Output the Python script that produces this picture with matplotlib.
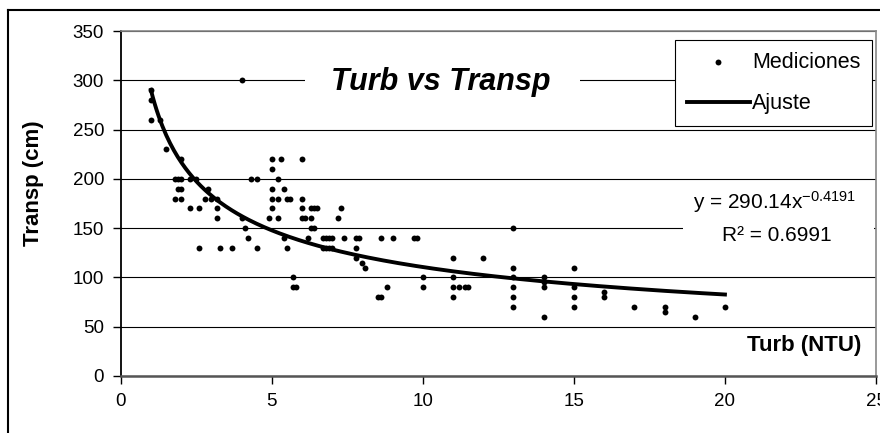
import matplotlib
matplotlib.use("Agg")
import matplotlib.pyplot as plt
import numpy as np
from matplotlib.lines import Line2D
from matplotlib.patches import Rectangle

plt.rcParams["font.family"] = ["Liberation Sans", "DejaVu Sans"]
plt.rcParams["mathtext.fontset"] = "custom"
plt.rcParams["mathtext.rm"] = "Liberation Sans"
plt.rcParams["mathtext.default"] = "regular"

turb = [1, 1, 1, 1.3, 1.5, 2,
        1.8, 1.9, 2, 2.3, 2.5, 1.9, 2, 1.8, 2,
        2.9, 2.8, 3, 3.2, 2.3, 2.6, 3.2, 3.2,
        2.6, 3.3, 3.7, 4.5, 5.5,
        4, 4.3, 4.5, 4, 4.1, 4.2,
        4.9, 5.2, 5, 5, 5.2, 5.5, 5.6,
        5, 5.4, 5.2, 5, 5, 5.3, 5.4,
        5.7, 5.7, 5.8,
        6, 6, 6, 6, 6.1, 6.2, 6.3, 6.4, 6.5, 6.3, 6.3, 6.4,
        6.7, 6.8, 6.9, 7, 6.7, 6.8, 6.9, 7,
        7.3, 7.2, 7.4,
        7.8, 7.9, 7.8, 7.8, 8, 8.1,
        8.6, 9, 9.7, 9.8,
        8.8, 8.5, 8.6,
        10, 10,
        11, 12, 11, 11, 11.2, 11.4, 11.5, 11,
        13, 13, 13, 13, 13, 13,
        14, 14, 14, 14,
        15, 15, 15, 15,
        16, 16, 17, 18, 18, 19, 20]
transp = [290, 280, 260, 260, 230, 220,
          200, 200, 200, 200, 200, 190, 190, 180, 180,
          190, 180, 180, 180, 170, 170, 170, 160,
          130, 130, 130, 130, 130,
          300, 200, 200, 160, 150, 140,
          160, 160, 170, 180, 180, 180, 180,
          190, 190, 200, 210, 220, 220, 140,
          100, 90, 90,
          220, 180, 170, 160, 160, 140, 170, 170, 170, 160, 150, 150,
          140, 140, 140, 140, 130, 130, 130, 130,
          170, 160, 140,
          140, 140, 130, 120, 115, 110,
          140, 140, 140, 140,
          90, 80, 80,
          100, 90,
          120, 120, 100, 90, 90, 90, 90, 80,
          150, 110, 100, 90, 80, 70,
          100, 95, 90, 60,
          110, 90, 80, 70,
          85, 80, 70, 70, 65, 60, 70]

# power fit y = a * x^b
FIT_A, FIT_B = 290.14, -0.4191
R2 = 0.6991
FIT_X0, FIT_X1 = 1, 20

W, H = 880, 433
fig = plt.figure(figsize=(W / 100, H / 100), dpi=100)


def fx(px):
    return px / W


def fy(py):
    return 1 - py / H


ax = fig.add_axes([fx(120.7), fy(376), fx(876) - fx(120.7), fy(31) - fy(376)])

ax.set_xlim(0, 25)
ax.set_ylim(0, 350)
ax.set_xticks(range(0, 26, 5))
ax.set_yticks(range(0, 351, 50))
ax.tick_params(direction="out", length=6, width=1, labelsize=13.5, pad=6, color="black")
ax.yaxis.grid(True, color="black", lw=0.8)
ax.set_axisbelow(True)

ax.spines["left"].set_color("black")
ax.spines["left"].set_linewidth(1.3)
ax.spines["bottom"].set_color("#555555")
ax.spines["bottom"].set_linewidth(1.8)
for s in ("top", "right"):
    ax.spines[s].set_color("#888888")
    ax.spines[s].set_linewidth(1.2)

ax.scatter(turb, transp, s=18, color="black", zorder=3, label="Mediciones", linewidths=0)
xf = np.linspace(FIT_X0, FIT_X1, 300)
ax.plot(xf, FIT_A * xf ** FIT_B, color="black", lw=2.8, zorder=4, label="Ajuste")

# white patches hiding gridlines behind title and equation
ax.add_patch(Rectangle((fx(305), fy(98)), fx(580) - fx(305), fy(64) - fy(98),
                       transform=fig.transFigure, facecolor="white", edgecolor="none", zorder=2))
ax.add_patch(Rectangle((fx(683), fy(250)), fx(874) - fx(683), fy(188) - fy(250),
                       transform=fig.transFigure, facecolor="white", edgecolor="none", zorder=2))

fig.text(fx(441), fy(90), "Turb vs Transp", ha="center", va="baseline",
         fontsize=22, fontweight="bold", fontstyle="italic")
fig.text(fx(775), fy(209), "y = 290.14x$^{%s}$" % ("-0.4191"), ha="center", va="baseline",
         fontsize=15)
fig.text(fx(777), fy(241), "R² = %.4f" % R2, ha="center", va="baseline", fontsize=15)

fig.text(fx(33), fy(183), "Transp (cm)", rotation=90, ha="center", va="center",
         fontsize=16, fontweight="bold")
fig.text(fx(804), fy(346), "Turb (NTU)", ha="center", va="center",
         fontsize=16, fontweight="bold")

leg = ax.legend(loc="upper right", bbox_to_anchor=(fx(872), fy(40)),
                bbox_transform=fig.transFigure, fontsize=15.5, frameon=True, fancybox=False,
                edgecolor="black", framealpha=1, borderaxespad=0, handlelength=2.9,
                handletextpad=0.1, borderpad=0.55, labelspacing=0.95)
leg.get_frame().set_linewidth(0.8)
leg.set_zorder(5)

# outer chart frame
fig.add_artist(Line2D([fx(8), 1], [fy(10), fy(10)], transform=fig.transFigure, color="black", lw=1.5))
fig.add_artist(Line2D([fx(8), fx(8)], [0, fy(10)], transform=fig.transFigure, color="black", lw=1.5))

fig.savefig("out.png", dpi=100)
